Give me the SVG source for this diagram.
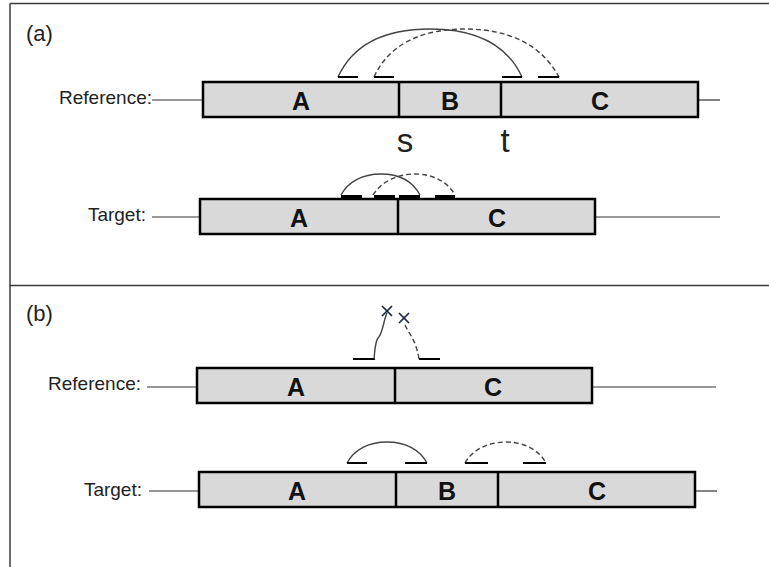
<svg xmlns="http://www.w3.org/2000/svg" width="769" height="567" viewBox="0 0 769 567">
<style>
.frame{stroke:#3a3a3a;stroke-width:1.5;fill:none}
.seg{fill:#d9d9d9;stroke:#000;stroke-width:2.5}
.div{stroke:#000;stroke-width:2.5}
.lead{stroke:#333;stroke-width:1.2;fill:none}
.lbl{font-family:"Liberation Sans",Arial,sans-serif;font-size:19px;fill:#222}
.panel{font-family:"Liberation Sans",Arial,sans-serif;font-size:22px;fill:#222}
.big{font-family:"Liberation Sans",Arial,sans-serif;font-size:33px;fill:#222;text-anchor:middle}
.seglbl{font-family:"Liberation Sans",Arial,sans-serif;font-size:25px;font-weight:bold;fill:#111;text-anchor:middle}
.arc{stroke:#444;stroke-width:1.4;fill:none}
.dash{stroke:#444;stroke-width:1.4;fill:none;stroke-dasharray:5 3}
.tick{stroke:#000;stroke-width:2}
.tickb{stroke:#000;stroke-width:3}
.x{stroke:#1a2a44;stroke-width:1.7}
</style>
<g id="frame">
<line class="frame" x1="10" y1="3.5" x2="769" y2="3.5"/>
<line class="frame" x1="10" y1="3.5" x2="10" y2="567"/>
<line class="frame" x1="10" y1="285.5" x2="769" y2="285.5"/>
</g>
<text class="panel" x="26" y="41">(a)</text>
<text class="panel" x="26" y="321">(b)</text>

<g id="a-ref">
<text class="lbl" x="152" y="104" text-anchor="end">Reference:</text>
<line class="lead" x1="152" y1="100" x2="203" y2="100"/>
<line class="lead" x1="698" y1="100" x2="720" y2="100"/>
<rect class="seg" x="203" y="82" width="495" height="35"/>
<line class="div" x1="399" y1="82" x2="399" y2="117"/>
<line class="div" x1="501" y1="82" x2="501" y2="117"/>
<text class="seglbl" x="301" y="109.5">A</text>
<text class="seglbl" x="450" y="109.5">B</text>
<text class="seglbl" x="600" y="109.5">C</text>
<text class="big" x="405" y="152">s</text>
<text class="big" x="505" y="152">t</text>
</g>

<g id="a-tgt">
<text class="lbl" x="146" y="221" text-anchor="end">Target:</text>
<line class="lead" x1="152" y1="217" x2="200" y2="217"/>
<line class="lead" x1="595" y1="217" x2="720" y2="217"/>
<rect class="seg" x="200" y="199" width="395" height="35"/>
<line class="div" x1="398" y1="199" x2="398" y2="234"/>
<text class="seglbl" x="299" y="226.5">A</text>
<text class="seglbl" x="497" y="226.5">C</text>
</g>

<g id="b-ref">
<text class="lbl" x="141" y="390" text-anchor="end">Reference:</text>
<line class="lead" x1="147" y1="387" x2="197" y2="387"/>
<line class="lead" x1="592" y1="387" x2="716" y2="387"/>
<rect class="seg" x="197" y="368" width="395" height="35"/>
<line class="div" x1="395" y1="368" x2="395" y2="403"/>
<text class="seglbl" x="296" y="395.5">A</text>
<text class="seglbl" x="493" y="395.5">C</text>
</g>

<g id="b-tgt">
<text class="lbl" x="142" y="496" text-anchor="end">Target:</text>
<line class="lead" x1="149" y1="491" x2="199" y2="491"/>
<line class="lead" x1="695" y1="491" x2="717" y2="491"/>
<rect class="seg" x="199" y="472" width="496" height="35"/>
<line class="div" x1="396" y1="472" x2="396" y2="507"/>
<line class="div" x1="498" y1="472" x2="498" y2="507"/>
<text class="seglbl" x="297" y="499.5">A</text>
<text class="seglbl" x="447" y="499.5">B</text>
<text class="seglbl" x="597" y="499.5">C</text>
</g>

<g id="connectors">
<path class="arc" d="M338,77 C355,40 390,29 430,29 C470,29 505,40 522,77"/>
<path class="dash" d="M374,77 C390,42 425,29 465,29 C505,29 540,42 559,77"/>
<line class="tick" x1="338" y1="77" x2="358" y2="77"/>
<line class="tick" x1="502" y1="77" x2="522" y2="77"/>
<line class="tick" x1="374" y1="77" x2="394" y2="77"/>
<line class="tick" x1="538" y1="77" x2="559" y2="77"/>
<path class="arc" d="M341,195 C348,182 362,174 381,174 C400,174 413,182 420,195"/>
<path class="dash" d="M373,195 C381,182 397,174 415,174 C433,174 448,182 455,195"/>
<line class="tickb" x1="341" y1="196.5" x2="362" y2="196.5"/>
<line class="tickb" x1="374" y1="196.5" x2="395" y2="196.5"/>
<line class="tickb" x1="399" y1="196.5" x2="420" y2="196.5"/>
<line class="tickb" x1="435" y1="196.5" x2="455" y2="196.5"/>
<line class="tick" x1="353" y1="359" x2="375" y2="359"/>
<path class="arc" d="M374,359 C375,350 375,342 378,338 C383,333 383,322 387,313"/>
<line class="x" x1="382" y1="306" x2="392" y2="316"/>
<line class="x" x1="392" y1="306" x2="382" y2="316"/>
<line class="x" x1="399" y1="313" x2="409" y2="323"/>
<line class="x" x1="409" y1="313" x2="399" y2="323"/>
<path class="dash" d="M405,325 C409,334 416,340 419,359"/>
<line class="tick" x1="419" y1="359" x2="440" y2="359"/>
<path class="arc" d="M347,463 C354,450 368,442 387,442 C406,442 420,450 427,463"/>
<path class="dash" d="M465,463 C472,450 488,442 506,442 C524,442 539,450 546,463"/>
<line class="tick" x1="347" y1="463" x2="367" y2="463"/>
<line class="tick" x1="405" y1="463" x2="427" y2="463"/>
<line class="tick" x1="465" y1="463" x2="488" y2="463"/>
<line class="tick" x1="523" y1="463" x2="546" y2="463"/>
</g>
</svg>
